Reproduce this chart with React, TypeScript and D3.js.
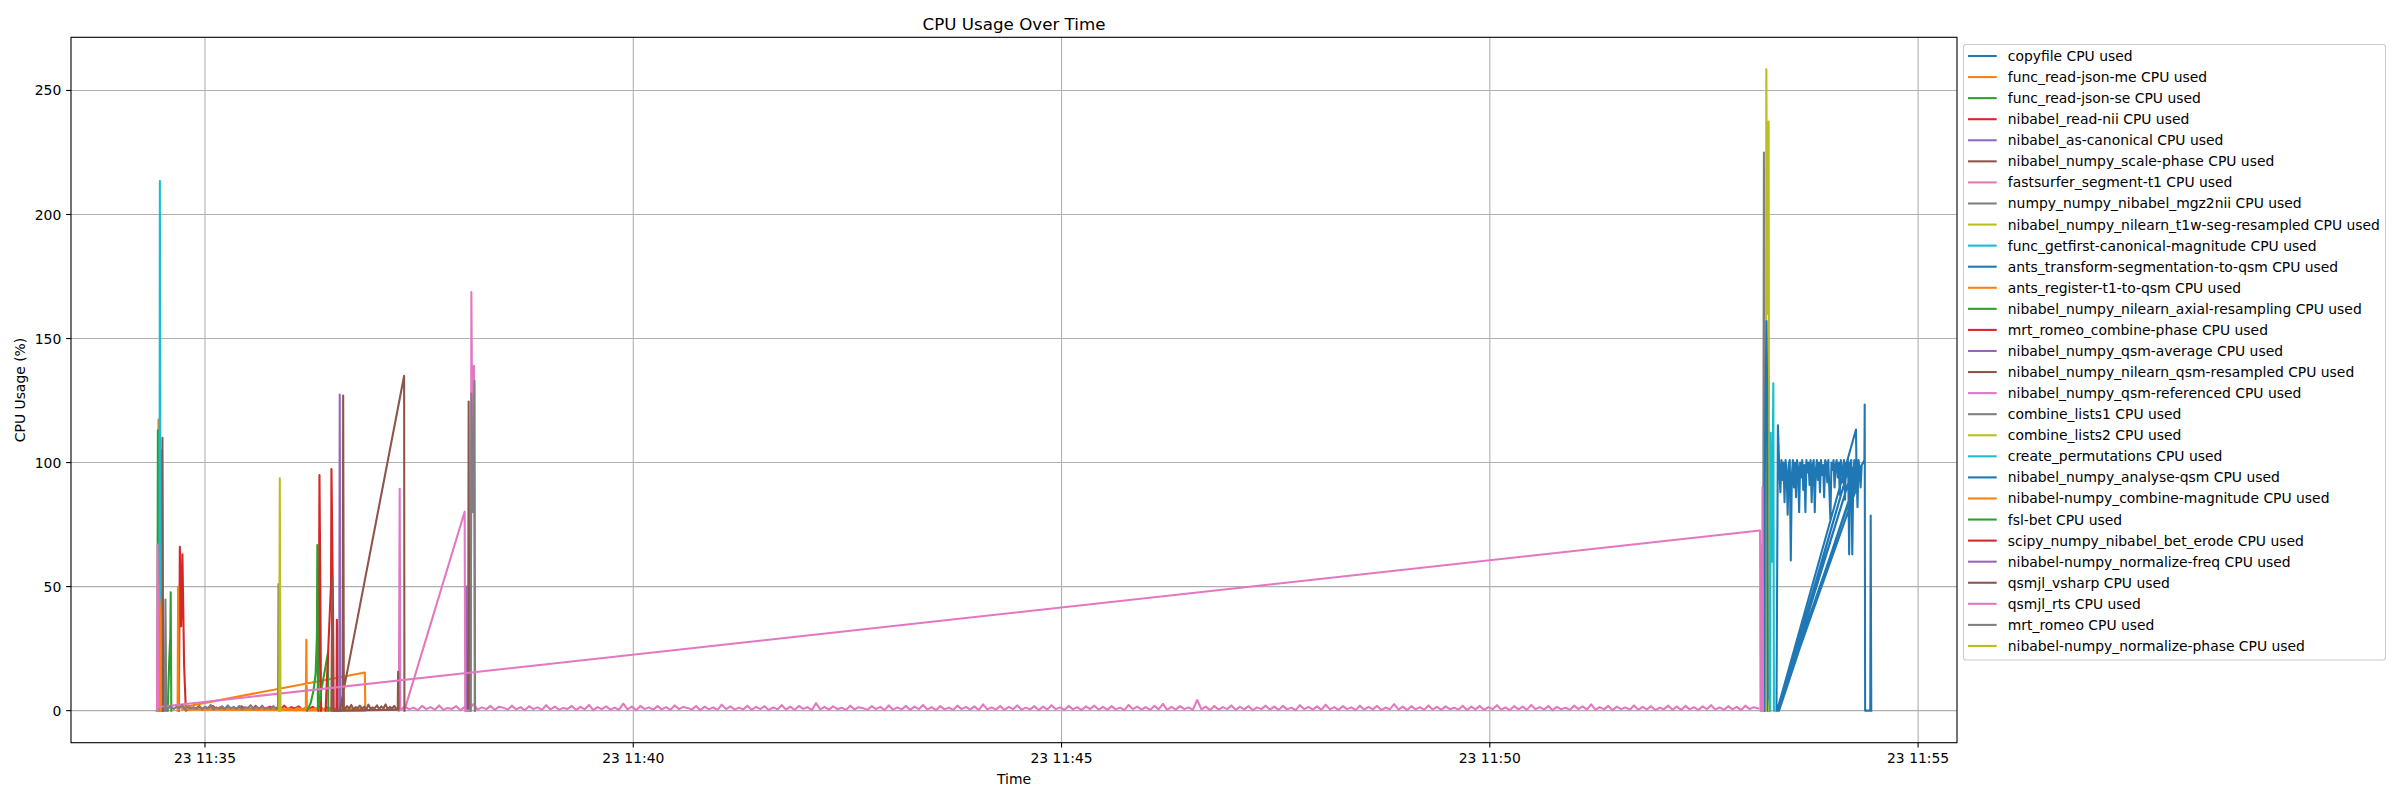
import React, { useEffect } from 'react';
import * as d3 from 'd3';

// ---------------- DATA ----------------
// Times are seconds relative to 23 11:35:00
const processNames = [
  'copyfile', 'func_read-json-me', 'func_read-json-se', 'nibabel_read-nii', 'nibabel_as-canonical',
  'nibabel_numpy_scale-phase', 'fastsurfer_segment-t1', 'numpy_numpy_nibabel_mgz2nii',
  'nibabel_numpy_nilearn_t1w-seg-resampled', 'func_getfirst-canonical-magnitude',
  'ants_transform-segmentation-to-qsm', 'ants_register-t1-to-qsm', 'nibabel_numpy_nilearn_axial-resampling',
  'mrt_romeo_combine-phase', 'nibabel_numpy_qsm-average', 'nibabel_numpy_nilearn_qsm-resampled',
  'nibabel_numpy_qsm-referenced', 'combine_lists1', 'combine_lists2', 'create_permutations',
  'nibabel_numpy_analyse-qsm', 'nibabel-numpy_combine-magnitude', 'fsl-bet', 'scipy_numpy_nibabel_bet_erode',
  'nibabel-numpy_normalize-freq', 'qsmjl_vsharp', 'qsmjl_rts', 'mrt_romeo', 'nibabel-numpy_normalize-phase',
];

const xTickTimes = ['11:35', '11:40', '11:45', '11:50', '11:55'];
const yTickValues = [0, 50, 100, 150, 200, 250];

// sampled noise segments (start sec, step sec, values)
const fastsurferNoise = [
  0.3,1.7,0.5,1.2,0.2,1.9,0.6,1.4,0.4,2.1,0.3,1.1,0.7,1.8,0.2,1.5,0.5,2.6,0.4,1.3,
  0.6,1.9,0.3,1.6,1.2,0.4,2.0,0.5,1.4,0.2,1.8,0.6,1.3,0.3,2.2,0.5,1.6,0.4,1.1,0.7,
  1.9,0.3,1.5,0.5,2.3,0.2,1.4,0.6,1.7,0.4,1.2,0.3,2.8,0.5,1.6,0.2,1.9,0.6,1.3,0.4,
  1.8,0.5,1.4,0.3,2.1,0.6,1.5,1.1,0.4,1.9,0.2,1.6,0.5,1.3,0.3,2.4,0.6,1.7,0.4,1.2,
  0.5,2.0,0.3,1.5,0.6,1.8,0.2,1.3,0.5,2.2,0.4,1.6,0.3,1.9,0.7,1.4,0.2,3.0,0.5,1.5,
  0.4,1.7,0.6,1.2,0.3,2.0,0.5,1.4,1.0,0.3,1.8,0.6,1.5,0.2,2.1,0.4,1.3,0.5,1.9,0.3,
  1.6,0.6,2.3,0.4,1.4,0.2,1.8,0.5,1.2,0.3,2.0,0.6,1.5,0.4,1.7,0.2,2.5,0.5,1.3,0.4,
  1.9,0.3,1.5,0.6,2.1,0.4,1.2,0.5,1.8,0.2,1.6,0.4,2.2,0.6,1.3,0.3,1.9,0.5,1.4,0.2,
  1.7,0.6,2.0,0.4,1.5,0.3,1.8,0.5,1.2,0.2,2.3,0.6,1.6,0.4,1.4,0.3,1.9,0.5,2.7,0.3,
  1.5,0.4,1.8,0.6,1.3,0.3,4.3,0.5,1.6,0.2,1.9,0.4,1.4,0.6,2.1,0.3,1.5,0.5,1.8,0.2,
  1.3,0.6,2.0,0.4,1.6,0.3,1.9,0.5,1.2,0.2,2.2,0.6,1.5,0.4,1.7,0.3,2.4,0.5,1.4,0.3,
  1.8,0.6,1.3,0.2,2.0,0.4,1.5,0.5,1.9,0.3,1.2,0.6,2.6,0.4,1.6,0.2,1.8,0.5,1.4,0.3,
  2.1,0.5,1.5,0.3,1.7,0.6,1.2,0.4,2.0,0.2,1.6,0.5,1.9,0.3,1.4,0.6,2.2,0.4,1.3,0.2,
  1.8,0.5,1.6,0.3,2.3,0.6,1.4,0.4,1.9,0.2,1.5,0.5,1.2,0.3,2.0,0.6,1.7,0.4,2.5,0.3,
  1.4,0.5,1.9,0.2,1.6,0.6,1.3,0.4,2.1,0.3,1.5,0.5,1.8,0.2,1.2,0.6,2.0,0.4,1.6,0.3,
  1.9,0.5,1.4,0.2,1.7,0.6,2.2,0.4,1.3,0.3,1.8,0.5,1.5,0.2,2.0,0.6,1.4,0.9,
];
const mrtRomeoNoise = [
  0.8,1.9,0.6,1.5,1.1,2.2,0.5,1.7,0.9,1.4,0.7,2.0,0.6,1.6,1.0,2.3,0.5,1.3,0.8,1.8,
  0.6,2.1,0.9,1.5,0.7,1.9,0.5,1.4,1.1,2.2,0.6,1.6,0.8,2.0,0.7,1.3,0.9,1.8,0.6,1.2,
];
const readNiiNoise = [
  0.4,1.2,0.7,1.6,0.5,1.1,0.9,1.8,0.6,1.3,0.4,1.5,0.8,1.2,0.5,1.7,0.7,1.1,0.6,1.9,
  0.4,1.3,0.8,1.6,0.5,1.2,0.7,2.0,0.6,1.4,0.9,1.7,0.5,1.1,0.8,1.5,0.6,1.8,0.4,1.3,0.7,
];
const antsRegisterNoise = [
  0.5,0.9,0.3,1.1,0.6,0.8,0.4,1.2,0.5,0.7,0.3,1.0,0.6,0.9,0.4,1.1,0.5,0.8,0.3,1.2,
  0.6,0.7,0.4,1.0,0.5,0.9,0.3,1.1,0.6,0.8,0.4,1.0,0.5,0.7,0.3,1.2,0.6,0.9,0.4,0.8,0.5,1.0,0.4,
];
const vsharpNoise = [
  0.6,1.8,0.9,2.3,0.5,1.4,1.1,2.0,0.7,1.6,0.4,2.4,0.8,1.3,1.0,2.1,0.6,1.7,0.9,2.5,0.5,1.5,0.8,1.9,0.6,
];
const analyseQsmBlock = [
  97,88,101,93,100,84,101,96,79,99,
  101,60.5,95,101,90,100,86,101,98,80,
  100,94,101,89,99,80,101,96,100,91,
  101,84,99,101,80,97,101,93,100,88,
  101,95,99,86,101,100,92,101,89,77,
  100,97,101,90,99,101,94,100,87,101,
  98,92,101,85,100,96,101,63,99,101,
  63,96,101,88,100,82,101,97,90,99,
];

type P = [number, number];
const sampled = (start: number, step: number, vals: number[]): P[] => vals.map((v, i) => [start + i * step, v]);

const copyfilePts: P[] = [[-33.8,0],[-33.5,0.9],[-33.1,0]];
const readJsonMePts: P[] = [[-33.0,0],[-32.6,117.3],[-32.1,0]];
const readJsonSePts: P[] = [[-33.4,0],[-33.0,113],[-31.6,62],[-30.1,105],[-29.5,0]];
const readNiiPts: P[] = [[-18.3,0],[-17.6,66],[-16.7,34],[-15.8,63],[-14.6,18],[-13.4,0], ...sampled(-12, 2.5, readNiiNoise)];
const asCanonicalPts: P[] = [[-27.8,0],[-27.4,2.5],[-27.0,0]];
const scalePhasePts: P[] = [[-30.1,0],[-29.8,110],[-29.3,0]];
const fastsurferPts: P[] = [[135.8,0],[136.4,89.4],[136.8,0.5], ...sampled(137, 3, fastsurferNoise)];
const mgz2niiPts: P[] = [[1090.4,0],[1090.8,67],[1091.5,50],[1092.0,225],[1092.4,0]];
const t1wSegPts: P[] = [[1093.3,0],[1093.7,258.5],[1094.4,160],[1095.3,237.5],[1095.8,0]];
const getfirstPts: P[] = [[-31.9,0],[-31.6,213.5],[-31.0,0]];
const antsTransformPts: P[] = [[1092.3,0],[1092.6,93.5],[1093.8,157],[1094.3,127],[1094.7,0]];
const antsRegisterPts: P[] = [[-19.2,0],[-18.8,50],[-18.4,0.4],[-17.6,1.2],[112,15.4],[112.3,0],
  ...sampled(-16, 3, antsRegisterNoise), [70.6,0],[71,28.6],[71.4,0.3]];
const axialPts: P[] = [[-26.1,0],[-25,21],[-24.3,30],[-24,47.7],[-23.6,0]];
const romeoCombinePts: P[] = [[79.5,0],[80.2,95],[80.8,51],[81.3,0]];
const qsmAveragePts: P[] = [[182.7,0],[183.1,50],[183.5,0]];
const qsmResampledPts: P[] = [[184.3,0],[184.7,124.6],[185.1,0]];
const qsmReferencedPts: P[] = [[139.8,0.3],[181.9,80.2],[182.3,0],[186.2,0],[186.6,168.7],[187.4,95],[188.4,139],[188.9,0]];
const combineLists1Pts: P[] = [[186.1,0],[186.6,127.7],[187.8,80],[188.8,133],[189.2,0]];
const combineLists2Pts: P[] = [[1095.6,0],[1096.0,4],[1096.3,0]];
const createPermutationsPts: P[] = [[1096.3,0],[1096.7,112],[1097.6,60],[1098.6,132],[1099.0,0]];
const analyseQsmPts: P[] = [[1100.8,0],[1101.8,115], ...sampled(1102.8, 0.73, analyseQsmBlock),
  [1101.2,0],[1156.5,113.3],[1157,90],[1101.6,0],[1154.5,98],[1102.1,0],[1152.5,100],[1102.6,0],[1158.5,97],
  [1161.5,100],[1162.4,101],[1162.6,123.4],[1162.9,0],[1166.5,0],[1166.8,78.6],[1167.2,0]];
const combineMagnitudePts: P[] = [[-33.2,0],[-32.8,52],[-31.2,38],[-30.9,0]];
const fslBetPts: P[] = [[71.5,0],[74,3],[76,8],[77.5,15],[78.4,30],[78.7,66.8],[79.1,0.5],[86.2,23.5],[86.4,0]];
const betErodePts: P[] = [[84.5,0],[88.3,51],[88.6,97.4],[89.7,40],[90.2,0],[92.1,0],[92.4,36.6],[92.8,0]];
const normalizeFreqPts: P[] = [[94.0,0],[94.4,127.4],[94.9,0]];
const vsharpPts: P[] = [[88.5,0],[89.2,53],[89.6,0],[96.5,0],[96.8,127],[97.3,0.6], ...sampled(98, 1.5, vsharpNoise),
  [135.0,0.5],[135.3,15.7],[135.6,0.4],[94.4,0],[139.5,135],[139.7,0]];
const rtsPts: P[] = [[-33.6,0],[-33.2,67],[-32.5,1.5],[1089.3,72.6],[1089.6,0],[1090.7,0],[1091.0,90],[1091.4,0]];
const mrtRomeoPts: P[] = [[-28.2,0],[-27.7,44.8],[-27.1,1], ...sampled(-26, 2, mrtRomeoNoise), [51.2,1],[51.5,51],[52,0]];
const normalizePhasePts: P[] = [[52,0],[52.4,93.7],[52.9,0]];

const seriesPoints: P[][] = [
  copyfilePts, readJsonMePts, readJsonSePts, readNiiPts, asCanonicalPts, scalePhasePts, fastsurferPts,
  mgz2niiPts, t1wSegPts, getfirstPts, antsTransformPts, antsRegisterPts, axialPts, romeoCombinePts,
  qsmAveragePts, qsmResampledPts, qsmReferencedPts, combineLists1Pts, combineLists2Pts, createPermutationsPts,
  analyseQsmPts, combineMagnitudePts, fslBetPts, betErodePts, normalizeFreqPts, vsharpPts, rtsPts,
  mrtRomeoPts, normalizePhasePts,
];

// ---------------- CHART ----------------
const W = 2400, H = 800;
const AX = { left: 71, right: 1957, top: 37.3, bottom: 742.7 };
const FONT = 'DejaVu Sans, sans-serif';
const FS = 13.9;
const base = new Date(2024, 4, 23, 11, 35, 0).getTime();
const toDate = (s: number) => new Date(base + s * 1000);
const parseTick = (hm: string) => {
  const [h, m] = hm.split(':').map(Number);
  return new Date(2024, 4, 23, h, m, 0);
};

export default function App() {
  useEffect(() => {
    document.body.style.margin = '0';
  }, []);

  const all = seriesPoints.flat();
  const [tMin, tMax] = d3.extent(all, (d) => d[0]) as [number, number];
  const [vMin, vMax] = d3.extent(all, (d) => d[1]) as [number, number];
  const tPad = (tMax - tMin) * 0.05;
  const vPad = (vMax - vMin) * 0.05;

  const x = d3.scaleTime().domain([toDate(tMin - tPad), toDate(tMax + tPad)]).range([AX.left, AX.right]);
  const y = d3.scaleLinear().domain([vMin - vPad, vMax + vPad]).range([AX.bottom, AX.top]);
  const line = d3.line<P>().x((d) => x(toDate(d[0]))).y((d) => y(d[1]));
  const color = d3.scaleOrdinal<number, string>().domain(d3.range(10)).range(d3.schemeCategory10);
  const fmt = d3.timeFormat('%d %H:%M');
  const xTicks = xTickTimes.map(parseTick);

  const legX = 1963.5, legY = 44.5, rowH = 21.07, legW = 422, legH = 615.5;

  return (
    <svg width={W} height={H} style={{ position: 'absolute', left: 0, top: 0, background: '#fff' }} fontFamily={FONT}>
      <rect x={0} y={0} width={W} height={H} fill="#fff" />
      <defs>
        <clipPath id="plotclip">
          <rect x={AX.left} y={AX.top} width={AX.right - AX.left} height={AX.bottom - AX.top} />
        </clipPath>
      </defs>
      {/* grid */}
      <g stroke="#b0b0b0" strokeWidth={1.1}>
        {xTicks.map((t, i) => (
          <line key={'gx' + i} x1={x(t)} x2={x(t)} y1={AX.top} y2={AX.bottom} />
        ))}
        {yTickValues.map((v) => (
          <line key={'gy' + v} x1={AX.left} x2={AX.right} y1={y(v)} y2={y(v)} />
        ))}
      </g>
      {/* series */}
      <g clipPath="url(#plotclip)" fill="none" strokeWidth={2.08} strokeLinejoin="round" strokeLinecap="square">
        {seriesPoints.map((pts, i) => (
          <path key={i} d={line(pts) || ''} stroke={color(i % 10)} />
        ))}
      </g>
      {/* spines */}
      <rect x={AX.left} y={AX.top} width={AX.right - AX.left} height={AX.bottom - AX.top} fill="none" stroke="#000" strokeWidth={1.1} />
      {/* x ticks */}
      <g fontSize={FS} textAnchor="middle" fill="#000">
        {xTicks.map((t, i) => (
          <g key={'xt' + i} transform={`translate(${x(t)},${AX.bottom})`}>
            <line y1={0} y2={4.86} stroke="#000" strokeWidth={1.1} />
            <text y={4.86 + 4.86} dy="0.76em">{fmt(t)}</text>
          </g>
        ))}
      </g>
      {/* y ticks */}
      <g fontSize={FS} textAnchor="end" fill="#000">
        {yTickValues.map((v) => (
          <g key={'yt' + v} transform={`translate(${AX.left},${y(v)})`}>
            <line x1={0} x2={-4.86} stroke="#000" strokeWidth={1.1} />
            <text x={-9.72} dy="0.36em">{v}</text>
          </g>
        ))}
      </g>
      {/* labels */}
      <text x={(AX.left + AX.right) / 2} y={29.5} textAnchor="middle" fontSize={16.7}>CPU Usage Over Time</text>
      <text x={(AX.left + AX.right) / 2} y={784} textAnchor="middle" fontSize={FS}>Time</text>
      <text transform={`translate(25,${(AX.top + AX.bottom) / 2}) rotate(-90)`} textAnchor="middle" fontSize={FS}>CPU Usage (%)</text>
      {/* legend */}
      <rect x={legX} y={legY} width={legW} height={legH} rx={2.8} fill="#fff" fillOpacity={0.8} stroke="#cccccc" strokeWidth={1.1} />
      {processNames.map((name, i) => {
        const cy = 56 + i * rowH;
        return (
          <g key={'lg' + i}>
            <line x1={1968} x2={1996.7} y1={cy} y2={cy} stroke={color(i % 10)} strokeWidth={2.08} />
            <text x={2007.8} y={cy} dy="0.36em" fontSize={FS}>{name + ' CPU used'}</text>
          </g>
        );
      })}
    </svg>
  );
}
